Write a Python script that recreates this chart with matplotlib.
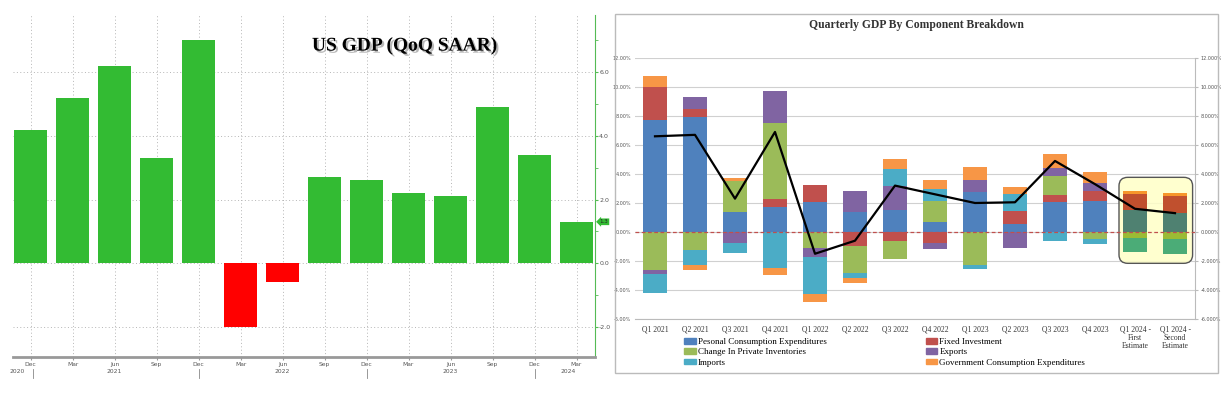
import numpy as np
import matplotlib
matplotlib.use('Agg')
import matplotlib.pyplot as plt
import matplotlib.patheffects as pe
import matplotlib.colors as mcolors
from matplotlib.patches import Patch, Rectangle, FancyBboxPatch

#%% data - left chart (US GDP QoQ SAAR)
months = ['Dec', 'Mar', 'Jun', 'Sep', 'Dec', 'Mar', 'Jun', 'Sep',
          'Dec', 'Mar', 'Jun', 'Sep', 'Dec', 'Mar']
gdp_qoq = [4.2, 5.2, 6.2, 3.3, 7.0, -2.0, -0.6, 2.7, 2.6, 2.2, 2.1, 4.9, 3.4, 1.3]
year_labels = ['2020', '2021', '2022', '2023', '2024']
year_label_pos = [-0.33, 2, 6, 10, 12.8]
year_breaks = [0.06, 4.02, 8.02, 12.02]

#%% data - right chart (component breakdown, % pts)
quarters = ['Q1 2021', 'Q2 2021', 'Q3 2021', 'Q4 2021', 'Q1 2022', 'Q2 2022',
            'Q3 2022', 'Q4 2022', 'Q1 2023', 'Q2 2023', 'Q3 2023', 'Q4 2023',
            'Q1 2024 -\nFirst\nEstimate', 'Q1 2024 -\nSecond\nEstimate']
pce = [7.7, 7.9, 1.35, 1.75, 2.05, 1.35, 1.55, 0.7, 2.75, 0.55, 2.05, 2.15, 1.5, 1.33]
fixed_inv = [2.3, 0.6, 0.0, 0.5, 1.2, -0.95, -0.6, -0.75, 0.0, 0.9, 0.5, 0.65, 1.15, 1.12]
inventories = [-2.6, -1.25, 2.15, 5.3, -1.1, -1.9, -1.25, 1.45, -2.25, 0.0, 1.3, -0.45, -0.4, -0.45]
exports = [-0.3, 0.8, -0.75, 2.2, -0.6, 1.5, 1.6, -0.4, 0.85, -1.1, 0.55, 0.55, 0.0, 0.0]
imports = [-1.3, -1.0, -0.7, -2.45, -2.6, -0.35, 1.2, 0.8, -0.3, 1.15, -0.6, -0.35, -0.95, -1.05]
gov = [0.75, -0.35, 0.2, -0.5, -0.5, -0.3, 0.65, 0.65, 0.85, 0.5, 1.0, 0.8, 0.2, 0.25]
gdp_line = [6.6, 6.7, 2.3, 6.9, -1.5, -0.6, 3.2, 2.6, 2.0, 2.05, 4.9, 3.3, 1.6, 1.3]

comp_names = ['Pesonal Consumption Expenditures', 'Fixed Investment',
              'Change In Private Inventories', 'Exports', 'Imports',
              'Government Consumption Expenditures']
comp_colors = ['#4F81BD', '#C0504D', '#9BBB59', '#8064A2', '#4BACC6', '#F79646']

W, H = 1221, 393
fig = plt.figure(figsize=(W / 100, H / 100), dpi=100)


def fbox(x0, y0, x1, y1):
    # pixel box -> figure fraction rect
    return [x0 / W, 1 - y1 / H, (x1 - x0) / W, (y1 - y0) / H]


#%% left chart
ax1 = fig.add_axes(fbox(13, 15, 595, 357))
x = np.arange(len(gdp_qoq))
bar_cols = ['#33bb33' if v >= 0 else '#ff0000' for v in gdp_qoq]
ax1.bar(x, gdp_qoq, width=0.78, color=bar_cols, zorder=2)
ax1.set_xlim(-0.42, 13.44)
ax1.set_ylim(-2.95, 7.8)

ax1.yaxis.tick_right()
ax1.set_yticks([-2, 0, 2, 4, 6])
ax1.set_yticklabels([f'{v:.1f}' for v in [-2, 0, 2, 4, 6]])
ax1.set_yticks([-1, 1, 3, 5, 7], minor=True)
ax1.tick_params(axis='y', which='both', color='#55bb55', labelcolor='#555555',
                labelsize=4.5, length=2, pad=1)
ax1.set_xticks(x)
ax1.set_xticklabels(months, fontsize=4.3, color='#555555')
ax1.tick_params(axis='x', length=2, pad=1.5, color='#999999')
ax1.grid(True, linestyle=(0, (1, 2.5)), color='#b5b5b5', linewidth=0.7)
ax1.set_axisbelow(True)
for s in ['left', 'top']:
    ax1.spines[s].set_visible(False)
ax1.spines['bottom'].set_color('#999999')
ax1.spines['bottom'].set_linewidth(2)
ax1.spines['right'].set_color('#55bb55')
ax1.spines['right'].set_linewidth(0.8)

xtr = ax1.get_xaxis_transform()
for lbl, p in zip(year_labels, year_label_pos):
    ax1.text(p, -0.036, lbl, transform=xtr, ha='center', va='top',
             fontsize=4.3, color='#555555')
for b in year_breaks:
    ax1.plot([b, b], [-0.035, -0.06], transform=xtr, clip_on=False,
             color='#888888', lw=0.6)

ytr = ax1.get_yaxis_transform()
ax1.text(1.008, gdp_qoq[-1], f'{gdp_qoq[-1]:.1f}', transform=ytr, ha='left',
         va='center', fontsize=4, color='#222222',
         bbox=dict(boxstyle='larrow,pad=0.15', fc='#33bb33', ec='none'))

fig.text(405 / W, 1 - 46 / H, 'US GDP (QoQ SAAR)', family='Liberation Serif',
         weight='bold', size=14, ha='center', va='center',
         path_effects=[pe.withSimplePatchShadow(offset=(1.5, -1.5),
                                                shadow_rgbFace='#888888',
                                                alpha=0.6)])

#%% right chart
fig.add_artist(Rectangle((615 / W, 1 - 373 / H), (1218 - 615) / W, (373 - 14) / H,
                         transform=fig.transFigure, fill=False,
                         ec='#bbbbbb', lw=1))
fig.text(916 / W, 1 - 25 / H, 'Quarterly GDP By Component Breakdown',
         family='Liberation Serif', weight='bold', size=8.4,
         ha='center', va='center', color='#333333')

ax2 = fig.add_axes(fbox(635, 58, 1195, 319))
q = np.arange(len(quarters))
highlight = [False] * 12 + [True, True]

pos_base = np.zeros(len(q))
neg_base = np.zeros(len(q))
for vals, col in zip([pce, fixed_inv, inventories, exports, imports, gov], comp_colors):
    vals = np.array(vals)
    base = np.where(vals >= 0, pos_base, neg_base)
    rgb = np.array(mcolors.to_rgb(col))
    cols = [tuple(rgb * [1, 1, 0.6]) if h else col for h in highlight]
    ax2.bar(q, vals, bottom=base, width=0.58, color=cols, zorder=2)
    pos_base += np.where(vals >= 0, vals, 0)
    neg_base += np.where(vals < 0, vals, 0)

ax2.plot(q, gdp_line, color='black', lw=1.6, zorder=5)
ax2.axhline(0, color='#C0504D', ls=(0, (3, 2)), lw=0.9, zorder=4)

ax2.add_patch(FancyBboxPatch((11.6, -2.16), 1.84, 5.93,
                             boxstyle='round,pad=0,rounding_size=0.22',
                             mutation_aspect=2.7, fc=(1, 1, 0.78, 0.85),
                             ec='#555555', lw=1.0, zorder=1.5))

ax2.set_xlim(-0.5, 13.5)
ax2.set_ylim(-6, 12)
yt = list(range(-6, 13, 2))
ax2.set_yticks(yt)
ax2.set_yticklabels([f'{v:.2f}%' for v in yt])
ax2.tick_params(axis='y', labelsize=3.5, labelcolor='#555555', length=0, pad=3)
ax2.yaxis.grid(True, color='#d0d0d0', lw=0.8)
ax2.set_axisbelow(True)
ax2.set_xticks(q)
ax2.set_xticklabels(quarters, family='Liberation Serif', fontsize=5.5,
                    color='#333333', linespacing=1.0)
ax2.tick_params(axis='x', length=0, pad=5)
for s in ['top', 'left', 'right']:
    ax2.spines[s].set_visible(False)
ax2.spines['bottom'].set_color('#bbbbbb')

ax2r = ax2.twinx()
ax2r.set_ylim(-6, 12)
ax2r.set_yticks(yt)
ax2r.set_yticklabels([f'{v:.3f}%' for v in yt])
ax2r.tick_params(axis='y', labelsize=3.5, labelcolor='#555555', length=2,
                 color='#bbbbbb', pad=2)
for s in ['top', 'left', 'bottom']:
    ax2r.spines[s].set_visible(False)
ax2r.spines['right'].set_color('#bbbbbb')

order = [0, 2, 4, 1, 3, 5]
handles = [Patch(color=comp_colors[i]) for i in order]
labels = [comp_names[i] for i in order]
ax2.legend(handles, labels, ncol=2, loc='upper left',
           bbox_to_anchor=(684 / W, 1 - 338 / H), bbox_transform=fig.transFigure,
           frameon=False, prop={'family': 'Liberation Serif', 'size': 6.5},
           handlelength=1.3, handleheight=0.6, handletextpad=0.2,
           columnspacing=11, labelspacing=0.25, borderpad=0, borderaxespad=0)

fig.savefig('out.png', dpi=100)
